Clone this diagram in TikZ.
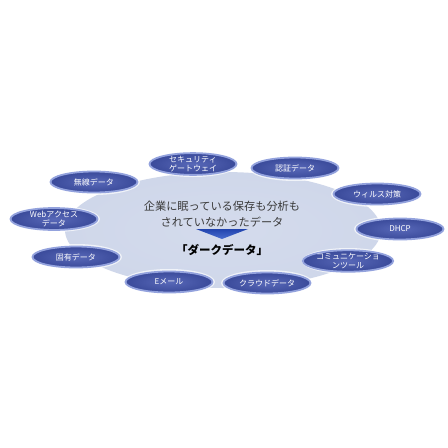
\documentclass[tikz,border=0pt]{standalone}
\usepackage{fontspec}
\newfontfamily\jp{Noto Sans CJK JP}
\usetikzlibrary{shapes.geometric}
\definecolor{bigfill}{HTML}{CFD7EA}
\definecolor{pillin}{HTML}{5868B8}
\definecolor{pillout}{HTML}{3A4A9A}
\definecolor{pillrim}{HTML}{93A2DD}
\definecolor{txtgray}{HTML}{3A3A3A}
\definecolor{arrowA}{HTML}{2244AE}
\definecolor{arrowB}{HTML}{4A6ED0}
\tikzset{
  pill/.style={ellipse, minimum width=87pt, minimum height=21pt, inner sep=0pt,
    draw=pillrim, line width=1.8pt, inner color=pillin, outer color=pillout,
    text=white, font=\jp\fontsize{8}{8.6}\selectfont, align=center},
  glow/.style={ellipse, minimum width=92pt, minimum height=26pt, fill=white, opacity=0.7},
  maintext/.style={text=txtgray, font=\jp\fontsize{11.2}{15.5}\selectfont, align=center},
}
\begin{document}
\begin{tikzpicture}[x=1pt,y=-1pt]
\useasboundingbox (0,0) rectangle (448,448);
\fill[white] (0,0) rectangle (448,448);
% big platform ellipse
\shade[inner color=bigfill!90!white, outer color=bigfill] (223,230) ellipse [x radius=158, y radius=58];
% central texts
\node[maintext] (t1) at (222,214) {企業に眠っている保存も分析も\\されていなかったデータ};
\path[shade, top color=arrowA, bottom color=arrowB] (196,229) -- (248,229) -- (222,239) -- cycle;
\coordinate (arr) at (222,234);
\node[text=black, font=\jp\bfseries\fontsize{11.5}{13}\selectfont] (t2) at (222,250) {「ダークデータ」};
% pills
\foreach \n/\x/\y/\t in {
  sec/193/164/{セキュリティ\\ゲートウェイ},
  auth/295/168/{認証データ},
  wl/94/182/{無線データ},
  virus/377/194/{ウィルス対策},
  web/54/219/{Webアクセス\\データ},
  dhcp/400/229/{DHCP},
  uniq/76/257/{固有データ},
  comm/348/261/{コミュニケーショ\\ンツール},
  mail/169/282/{Eメール},
  cloud/267/283/{クラウドデータ}}{
  \node[glow] (g\n) at (\x,\y) {};
  \node[pill] (\n) at (\x,\y) {\t};
}
\end{tikzpicture}
\end{document}
